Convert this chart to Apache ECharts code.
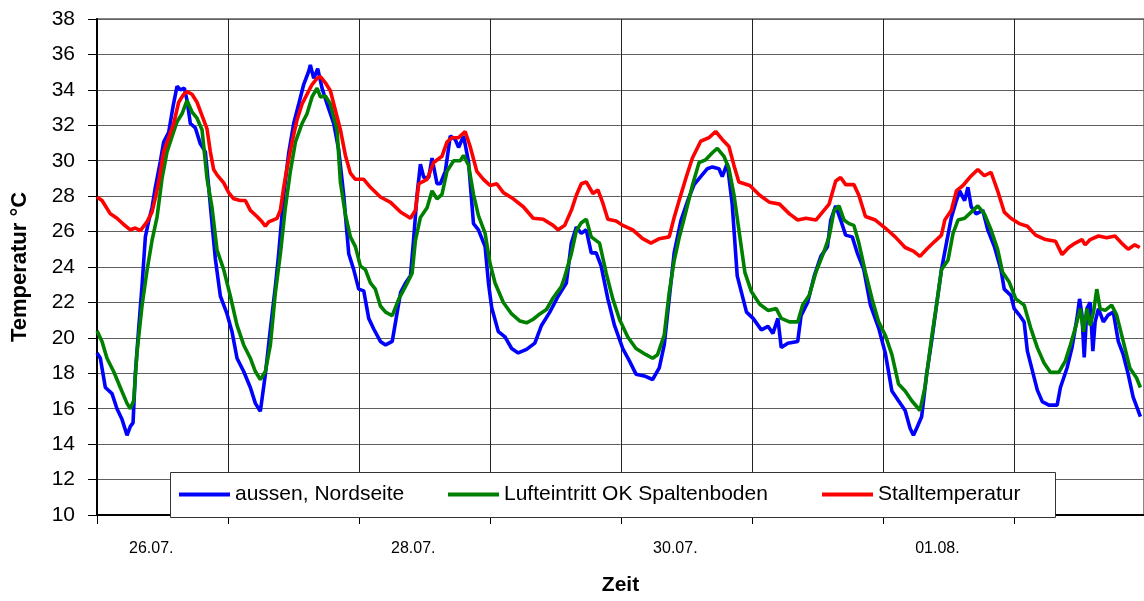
<!DOCTYPE html>
<html>
<head>
<meta charset="utf-8">
<script src="https://cdn.jsdelivr.net/npm/echarts@6/dist/echarts.min.js"></script>
<style>
  html, body { margin: 0; padding: 0; background: #fff; }
  #chart { width: 1144px; height: 601px; }
</style>
</head>
<body>
<div id="chart"></div>
<script>
// Stunden ab 26.07. 00:00, Temperatur in °C
var aussen = [
  [0,19.15],[0.61,18.85],[1.53,17.2],[2.75,16.85],[3.66,16.0],[4.58,15.4],[5.50,14.5],[6.11,15.0],[6.60,15.2],[7.02,17.95],
  [7.63,20.5],[8.24,22.9],[8.86,25.7],[9.47,26.6],[10.08,27.35],[10.69,28.5],[11.60,29.95],[12.21,31.05],[13.13,31.6],[13.92,33.05],
  [14.66,34.2],[15.27,34.0],[16.00,34.1],[16.49,33.4],[17.10,32.1],[18.02,31.85],[18.93,30.95],[19.85,30.5],[20.46,28.5],[21.07,26.45],
  [21.68,24.45],[22.60,22.35],[23.82,21.35],[24.73,20.35],[25.65,18.85],[26.87,18.1],[28.09,17.2],[29.01,16.3],[29.92,15.85],[30.84,17.95],
  [31.76,20.5],[32.67,22.9],[33.28,24.75],[34.20,28.05],[35.12,30.45],[36.03,32.1],[36.95,33.2],[37.86,34.3],[38.78,35.05],[39.08,35.4],
  [39.70,34.65],[40.43,35.2],[41.22,34.1],[42.14,33.2],[43.36,32.1],[44.28,30.6],[45.19,28.05],[46.11,24.75],[47.02,23.85],[47.94,22.75],
  [48.86,22.65],[49.77,21.1],[50.69,20.5],[51.91,19.8],
  [52.86,19.6],[54.08,19.8],[54.99,21.45],[55.60,22.55],[56.51,23.1],[57.42,23.5],[58.03,25.7],[58.63,28.1],[59.24,29.8],[59.85,29.05],
  [60.76,29.05],[61.37,30.15],[62.28,28.7],[62.89,28.7],[63.80,29.4],[64.71,31.4],[65.62,31.2],[66.23,30.75],[67.14,31.4],[68.05,29.95],
  [68.96,26.45],[69.87,26.1],[71.09,25.15],[71.70,23.1],[72.30,21.7],[73.52,20.35],[74.73,20.05],[75.95,19.4],[77.16,19.15],[78.68,19.35],
  [80.20,19.7],[81.42,20.7],[82.94,21.45],[84.46,22.35],[85.97,23.1],[86.89,25.35],[87.80,26.25],[88.71,25.9],[89.62,26.1],[90.53,24.8],
  [91.44,24.8],[92.35,24.05],[93.57,22.2],[94.79,20.7],[96.30,19.4],[97.52,18.7],[98.73,17.95],[100.25,17.85],[101.77,17.65],[102.99,18.3],
  [103.90,19.6],[104.81,22.2],[105.72,24.8],[106.94,26.6],[108.15,27.7],[109.37,28.65],[110.58,29.1],[111.80,29.55],[112.71,29.65],[113.92,29.55],
  [114.53,29.1],[115.44,29.85],[116.35,27.55],[117.27,23.5],
  [118.97,21.45],[120.18,21.1],[121.69,20.45],[122.91,20.65],[123.81,20.25],[124.72,21.1],[125.33,19.45],[126.54,19.7],[128.35,19.8],[128.96,21.25],
  [130.17,22.0],[131.38,23.5],[132.59,24.6],[133.80,25.15],[134.41,26.65],[135.31,27.45],[136.22,26.65],[137.13,25.8],[138.34,25.7],[139.25,24.8],
  [140.46,23.85],[141.67,21.85],[143.18,20.55],[144.39,19.15],[145.60,17.0],[146.81,16.45],[148.03,15.9],[148.93,14.9],[149.54,14.5],[150.14,14.9],
  [151.05,15.55],[151.96,17.95],[152.87,19.8],[153.78,21.85],[154.68,23.85],[155.59,25.35],[156.50,26.8],[157.41,27.75],[158.01,28.3],[158.92,27.75],
  [159.53,28.5],[160.13,27.4],[161.04,27.0],[162.25,27.2],[163.16,26.1],[164.37,25.15],[165.58,23.85],[166.18,22.75],[167.39,22.4],[168.00,21.65],
  [168.91,21.3],[169.82,20.9],[170.42,19.25],[171.33,18.15],[172.24,17.05],[173.15,16.4],[174.36,16.2],[175.87,16.2],[176.47,17.2],[177.68,18.3],
  [178.59,19.45],[179.50,21.1],[179.98,22.2],[180.41,21.3],[180.83,18.9],[181.32,21.65],[181.92,22.0],[182.41,19.25],[182.83,20.9],[183.44,21.65],
  [184.34,20.9],[185.25,21.3],[186.16,21.45],[187.07,19.8],[187.98,19.05],[188.88,17.95],[189.79,16.65],[190.70,15.9],[191.12,15.55]
];

var lufteintritt = [
  [0,20.4],[0.92,19.8],[1.83,18.85],[3.05,18.1],[4.27,17.2],[5.50,16.3],[6.11,16.0],[6.72,16.45],[7.33,19.2],[8.24,21.8],
  [9.16,23.8],[10.08,25.5],[10.99,26.8],[11.91,29.0],[12.82,30.5],[13.74,31.35],[14.66,32.2],[15.57,32.65],[16.49,33.4],[17.40,32.75],
  [18.32,32.4],[19.24,31.75],[20.15,29.0],[21.07,27.35],[21.99,24.95],[23.21,23.85],[24.43,22.35],[25.65,20.7],[26.87,19.6],[28.09,18.85],
  [29.01,18.1],[29.92,17.65],[30.84,18.1],[31.76,19.6],[32.67,22.55],[33.59,24.75],[34.50,27.35],[35.42,29.4],[36.34,31.05],[37.56,32.1],
  [38.47,32.65],[39.39,33.6],[40.31,34.1],[40.92,33.6],[41.83,33.65],[42.75,33.2],[43.97,31.75],[44.58,28.8],[45.50,26.95],[46.41,25.7],
  [47.33,25.15],[48.25,24.05],[49.16,23.85],[50.08,23.1],[50.99,22.75],[51.91,21.8],
  [52.86,21.45],[54.08,21.25],[55.29,22.2],[56.51,22.9],[57.72,23.65],[58.33,25.5],[59.24,26.8],[60.46,27.35],[61.37,28.3],[62.28,27.85],
  [63.19,28.1],[64.10,29.4],[65.32,30.0],[66.53,30.0],[67.14,30.3],[68.05,29.75],[68.96,28.1],[69.87,26.9],[71.09,25.9],[72.00,24.2],
  [72.91,23.1],[74.43,22.0],[75.95,21.35],[77.47,20.95],[78.68,20.85],[79.90,21.05],[81.11,21.35],[82.33,21.6],[83.54,22.25],[85.06,22.9],
  [85.67,23.45],[86.89,24.75],[87.80,26.05],[88.71,26.5],[89.62,26.7],[90.53,25.7],[92.05,25.35],[93.27,23.65],[94.48,22.2],[95.70,21.05],
  [97.22,20.05],[98.73,19.4],[100.56,19.05],[101.77,18.85],[102.68,19.05],[103.90,20.15],[104.81,22.55],[105.72,24.35],[106.63,25.65],[107.85,27.1],
  [109.06,28.6],[110.28,29.9],[111.49,30.05],[112.71,30.45],[113.62,30.7],[114.84,30.25],[115.75,29.55],[116.66,28.1],[117.57,26.1],
  [118.67,23.7],[119.88,22.6],[121.39,21.9],[122.91,21.55],[124.42,21.65],[125.33,21.1],[126.84,20.9],[128.35,20.9],[129.26,21.85],[130.47,22.4],
  [131.68,23.7],[133.20,24.9],[134.10,25.7],[135.01,27.2],[135.92,27.45],[136.83,26.65],[137.74,26.45],[138.64,26.35],[139.55,25.35],[140.76,23.7],
  [141.97,22.2],[143.18,20.9],[144.39,20.15],[145.60,19.05],[146.81,17.4],[148.03,17.0],[149.24,16.45],[150.75,15.9],[151.66,17.2],[152.87,20.0],
  [153.78,21.85],[154.68,23.85],[155.89,24.4],[156.80,25.9],[157.71,26.65],[158.92,26.75],[160.13,27.1],[161.34,27.45],[162.55,27.0],[163.76,26.1],
  [164.97,25.0],[165.88,23.7],[167.09,23.15],[168.30,22.2],[169.82,21.85],[171.03,20.55],[172.24,19.45],[173.45,18.6],[174.66,18.05],[176.17,18.05],
  [177.38,18.7],[178.29,19.6],[179.20,20.55],[180.11,21.65],[180.71,20.35],[181.32,21.65],[181.92,20.7],[182.53,21.45],[183.13,22.75],[183.74,21.65],
  [184.65,21.55],[185.86,21.85],[186.76,21.3],[187.98,19.8],[189.19,18.3],[190.40,17.75],[191.12,17.2]
];

var stall = [
  [0,27.95],[0.92,27.75],[2.44,27.0],[3.66,26.75],[4.89,26.4],[6.11,26.1],[7.02,26.2],[7.94,26.05],[9.16,26.55],[10.08,27.1],
  [10.69,27.9],[11.30,28.8],[12.21,30.5],[13.13,31.3],[14.05,32.1],[14.96,33.3],[15.88,33.75],[16.49,33.9],[17.40,33.75],[18.32,33.3],
  [19.24,32.55],[20.15,31.8],[20.76,30.5],[21.37,29.5],[21.99,29.2],[23.21,28.75],[24.12,28.2],[25.04,27.85],[26.26,27.75],[27.18,27.75],
  [28.09,27.2],[29.31,26.85],[30.23,26.55],[30.84,26.3],[31.45,26.55],[32.98,26.75],[33.59,27.2],[34.20,28.5],[34.81,29.6],[35.73,31.05],
  [36.64,32.3],[37.56,33.2],[38.47,33.75],[39.39,34.3],[40.31,34.65],[40.92,34.75],[41.83,34.4],[42.75,33.95],[43.66,32.85],[44.58,31.75],
  [45.50,30.3],[46.41,29.3],[47.33,28.95],[48.86,28.95],[50.08,28.5],[51.91,27.95],
  [53.77,27.65],[55.60,27.1],[57.42,26.75],[58.33,27.2],[58.94,28.7],[60.46,28.95],[61.67,29.9],[63.19,30.25],[64.10,31.05],[65.01,31.3],
  [66.23,31.3],[67.44,31.65],[68.35,30.8],[69.57,29.4],[70.78,28.95],[72.00,28.6],[73.22,28.7],[74.43,28.2],[76.25,27.85],[78.08,27.4],
  [79.90,26.75],[81.72,26.7],[83.54,26.35],[84.46,26.1],[85.67,26.35],[86.89,27.2],[87.80,28.05],[88.71,28.7],[89.62,28.8],[90.84,28.15],
  [91.75,28.35],[92.66,27.6],[93.57,26.7],[95.09,26.6],[96.30,26.35],[98.13,26.1],[99.95,25.6],[101.47,25.35],[102.99,25.6],[104.81,25.7],
  [105.72,26.8],[106.63,27.75],[107.85,29.0],[109.06,30.15],[110.58,31.1],[112.10,31.3],[113.32,31.65],[114.53,31.2],[115.75,30.8],[116.66,29.75],
  [117.57,28.8],
  [119.58,28.6],[121.39,28.05],[123.21,27.65],[125.02,27.55],[126.84,27.0],[128.35,26.65],[129.87,26.75],[131.68,26.65],[132.89,27.1],[134.10,27.55],
  [135.31,28.85],[136.22,29.05],[137.13,28.65],[138.64,28.65],[139.55,28.05],[140.76,26.85],[142.58,26.65],[144.39,26.2],[146.21,25.7],[148.03,25.1],
  [149.54,24.9],[150.75,24.6],[151.96,25.0],[153.47,25.45],[154.68,25.8],[155.29,26.65],[156.50,27.2],[157.41,28.3],[158.62,28.6],[159.83,29.05],
  [161.34,29.5],[162.55,29.15],[163.76,29.35],[164.97,28.3],[166.18,27.1],[167.39,26.75],[168.91,26.45],[170.42,26.3],[171.93,25.8],[173.75,25.55],
  [175.57,25.45],[176.78,24.7],[177.99,25.1],[179.20,25.35],[180.41,25.55],[181.01,25.25],[181.92,25.55],[183.44,25.75],[184.95,25.65],[186.46,25.75],
  [187.67,25.35],[188.88,25.0],[190.09,25.25],[191.00,25.1]
];

var labelHours = [0, 48, 96, 144];
var labelTexts = ['26.07.', '28.07.', '30.07.', '01.08.'];
var seriesNames = ['aussen, Nordseite', 'Lufteintritt OK Spaltenboden', 'Stalltemperatur'];
var seriesColors = ['#0000ff', '#008000', '#ff0000'];

var FONT = '"Liberation Sans", Arial, sans-serif';

var chart = echarts.init(document.getElementById('chart'));

// one legend per item, so the icons sit where they are in the original
var legendLeft = [179, 448, 822];
var legends = [];
for (var i = 0; i < seriesNames.length; i++) {
  legends.push({
    data: [{ name: seriesNames[i], icon: 'rect' }],
    left: legendLeft[i],
    top: 484,
    padding: 0,
    itemWidth: 51,
    itemHeight: 4,
    itemGap: 0,
    selectedMode: false,
    textStyle: { fontFamily: FONT, fontSize: 21, color: '#000' }
  });
}

var data = [aussen, lufteintritt, stall];
var series = [];
for (var j = 0; j < data.length; j++) {
  series.push({
    name: seriesNames[j],
    type: 'line',
    data: data[j],
    symbol: 'none',
    animation: false,
    lineStyle: { color: seriesColors[j], width: 3.6 },
    itemStyle: { color: seriesColors[j] }
  });
}

option = {
  backgroundColor: '#fff',
  animation: false,
  grid: {
    left: 97,
    top: 19,
    bottom: 74,
    right: -3,
    show: true,
    borderColor: '#888',
    borderWidth: 2,
    backgroundColor: 'transparent'
  },
  legend: legends,
  graphic: [{
    type: 'rect',
    z: 3,
    shape: { x: 170.5, y: 472.5, width: 885, height: 45 },
    style: { fill: '#fff', stroke: '#333', lineWidth: 1 }
  }],
  xAxis: {
    type: 'value',
    min: 0,
    max: 191.78,
    interval: 24,
    name: 'Zeit',
    nameLocation: 'middle',
    nameGap: 60,
    nameTextStyle: { fontFamily: FONT, fontSize: 21, fontWeight: 'bold', color: '#000' },
    axisLine: { show: true, onZero: false, lineStyle: { color: '#000', width: 2 } },
    axisTick: { show: true, length: 9, lineStyle: { color: '#000', width: 1 } },
    splitLine: { show: true, lineStyle: { color: '#222', width: 1 } },
    axisLabel: {
      fontFamily: FONT,
      fontSize: 16,
      color: '#000',
      margin: 26,
      align: 'left',
      padding: [0, 0, 0, 32],
      showMaxLabel: false,
      formatter: function (v) {
        var k = labelHours.indexOf(v);
        return k >= 0 ? labelTexts[k] : '';
      }
    }
  },
  yAxis: {
    type: 'value',
    min: 10,
    max: 38,
    interval: 2,
    name: 'Temperatur °C',
    nameLocation: 'middle',
    nameGap: 66,
    nameTextStyle: { fontFamily: FONT, fontSize: 22, fontWeight: 'bold', color: '#000' },
    axisLine: { show: true, lineStyle: { color: '#000', width: 2 } },
    axisTick: { show: true, length: 9, lineStyle: { color: '#000', width: 1 } },
    splitLine: { show: true, lineStyle: { color: '#606060', width: 1 } },
    axisLabel: { fontFamily: FONT, fontSize: 21, color: '#000', margin: 22 }
  },
  series: series
};

chart.setOption(option);
</script>
</body>
</html>
